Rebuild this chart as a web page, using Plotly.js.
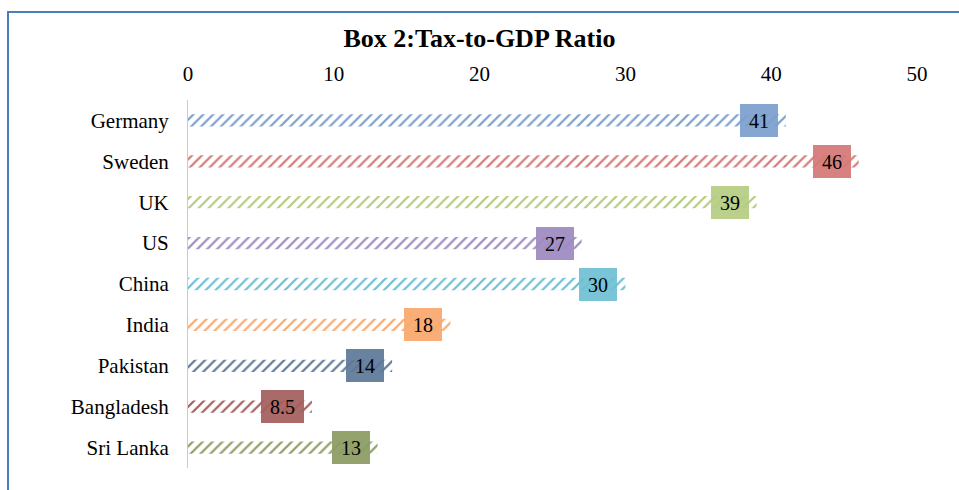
<!DOCTYPE html>
<html>
<head>
<meta charset="utf-8">
<script src="https://cdn.plot.ly/plotly-3.0.1.min.js"></script>
<style>
  html, body { margin: 0; padding: 0; background: #fff; overflow: hidden; }
  #frame { position: absolute; left: 7px; top: 11px; width: 1000px; height: 600px;
           border-left: 2px solid #4A7EBB; border-top: 2px solid #4A7EBB; box-sizing: border-box; }
  #chart { position: absolute; left: 0; top: 0; width: 959px; height: 490px; }
</style>
</head>
<body>
<div id="frame"></div>
<div id="chart"></div>
<script>
const categories = ["Germany", "Sweden", "UK", "US", "China", "India", "Pakistan", "Bangladesh", "Sri Lanka"];
const values = [41, 46, 39, 27, 30, 18, 14, 8.5, 13];
const valueLabels = ["41", "46", "39", "27", "30", "18", "14", "8.5", "13"];
const barColors = ["#7C9FCE", "#D47876", "#B5CC82", "#9E8AC0", "#6FBFD3", "#F9A86E", "#5E7898", "#A45F5E", "#8C9C63"];
const boxColors = ["rgba(124,159,206,0.93)", "rgba(212,120,118,0.93)", "rgba(181,204,130,0.93)",
                   "rgba(158,138,192,0.93)", "rgba(111,191,211,0.93)", "rgba(249,168,110,0.93)",
                   "rgba(94,120,152,0.93)", "rgba(164,95,94,0.93)", "rgba(140,156,99,0.93)"];
const xTicks = [0, 10, 20, 30, 40, 50];

const SERIF = 'Liberation Serif, Times New Roman, serif';

const trace = {
  type: 'bar',
  orientation: 'h',
  x: values,
  y: categories,
  width: 0.3,
  marker: {
    color: barColors,
    line: { width: 0 },
    pattern: { shape: '/', fgcolor: barColors, bgcolor: 'white', fillmode: 'replace', size: 7, solidity: 0.32 }
  },
  hoverinfo: 'skip'
};

const annotations = categories.map((c, i) => ({
  x: values[i], y: c, xref: 'x', yref: 'y',
  text: valueLabels[i], showarrow: false,
  xanchor: 'right', yanchor: 'middle', xshift: -8,
  width: valueLabels[i].length > 2 ? 43 : 38, height: 33, borderpad: 0, borderwidth: 0,
  bgcolor: boxColors[i],
  font: { family: SERIF, size: 20, color: '#000' }
}));

const layout = {
  width: 959, height: 490,
  paper_bgcolor: 'rgba(0,0,0,0)', plot_bgcolor: 'rgba(0,0,0,0)',
  margin: { l: 188, r: 42, t: 100, b: 22 },
  showlegend: false,
  title: { text: '<b>Box 2:Tax-to-GDP Ratio</b>', x: 0.5, xref: 'container', xanchor: 'center',
           y: 0.922, yanchor: 'middle',
           font: { family: SERIF, size: 26, color: '#000' } },
  xaxis: {
    side: 'top', range: [0, 50], tickvals: xTicks, ticktext: xTicks.map(String),
    showgrid: false, zeroline: false, showline: false, ticks: '',
    ticklabelstandoff: 14,
    tickfont: { family: SERIF, size: 21, color: '#000' }
  },
  yaxis: {
    autorange: 'reversed', type: 'category',
    showgrid: false, zeroline: false, showline: true, linecolor: '#B9CDE5', linewidth: 1,
    ticks: '', ticklabelstandoff: 14,
    tickfont: { family: SERIF, size: 21, color: '#000' }
  },
  annotations: annotations
};

Plotly.newPlot('chart', [trace], layout, { displayModeBar: false, staticPlot: true });
</script>
</body>
</html>
